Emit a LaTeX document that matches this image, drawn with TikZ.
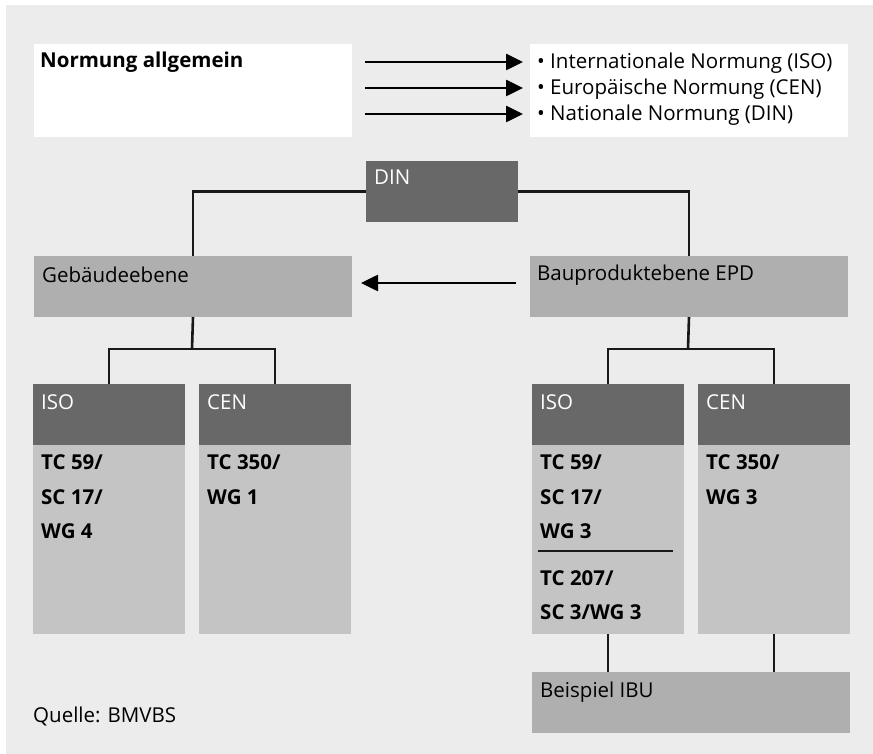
\documentclass[tikz,border=0pt]{standalone}
\usepackage{fontspec}
\setmainfont{Open Sans}
\usetikzlibrary{arrows.meta}
\definecolor{panel}{HTML}{ECECEC}
\definecolor{dgray}{HTML}{686868}
\definecolor{lgray}{HTML}{C4C4C4}
\definecolor{mgray}{HTML}{AEAFAE}
\tikzset{
  box/.style  = {inner sep=0pt, outer sep=0pt, anchor=north west},
  hdr/.style  = {box, fill=dgray, minimum width=152pt, minimum height=61pt},
  body/.style = {box, fill=lgray, minimum width=152pt, minimum height=189pt},
  lvl/.style  = {box, fill=mgray, minimum width=318pt, minimum height=61pt},
  wbox/.style = {box, fill=white, minimum width=318pt, minimum height=93pt},
  lbl/.style  = {anchor=base west, inner sep=0pt, font=\fontsize{20.5}{24}\selectfont},
  wlbl/.style = {lbl, text=white},
  blbl/.style = {lbl, font=\fontsize{20.5}{24}\selectfont\bfseries},
  conn/.style = {line width=2.6pt, color=black!90},
  arr/.style  = {line width=2.6pt, -{Triangle[length=17pt, width=16pt]}}
}
\begin{document}
\begin{tikzpicture}[x=1pt, y=-1pt]
\useasboundingbox (0,0) rectangle (873,754);
\fill[panel] (6,5) rectangle (873,754);

% top: general standards
\node[wbox] (gen) at (34,44) {};
\node[wbox] (lvls) at (530,44) {};
\node[blbl] (gen-t) at (40,68) {Normung allgemein};
\node[lbl] (iso-t) at (537,69) {\textbullet\ Internationale Normung (ISO)};
\node[lbl] (cen-t) at (537,95) {\textbullet\ Europäische Normung (CEN)};
\node[lbl] (din-t) at (537,121) {\textbullet\ Nationale Normung (DIN)};
\foreach \y [count=\i] in {62,88,114} {
  \coordinate (s\i) at (365,\y);
  \coordinate (e\i) at (523,\y);
  \draw[arr] (s\i) -- (e\i);
}

% DIN and the two levels
\node[hdr] (din) at (366,161) {};
\node[wlbl] (din-l) at (374,185) {DIN};
\node[lvl] (geb) at (34,256) {};
\node[lbl] (geb-l) at (42,282) {Gebäudeebene};
\node[lvl] (bau) at (530,256) {};
\node[lbl] (bau-l) at (537,280) {Bauproduktebene EPD};
\draw[conn] (din.west) -| (geb.north);
\draw[conn] (din.east) -| (bau.north);
\coordinate (ga) at (516,283);
\coordinate (gb) at (361,283);
\draw[arr] (ga) -- (gb);

% committees, building level
\node[hdr] (iso1h) at (33,384) {};
\node[body] (iso1b) at (33,445) {};
\node[hdr] (cen1h) at (199,384) {};
\node[body] (cen1b) at (199,445) {};
\node[wlbl] (iso1-l) at (41,409) {ISO};
\node[wlbl] (cen1-l) at (207,409) {CEN};
\node[blbl] (iso1-a) at (41,469) {TC 59/};
\node[blbl] (iso1-b) at (41,504) {SC 17/};
\node[blbl] (iso1-c) at (41,538) {WG 4};
\node[blbl] (cen1-a) at (207,469) {TC 350/};
\node[blbl] (cen1-b) at (207,504) {WG 1};
\coordinate (jl) at (192,349);
\draw[conn] (geb.south) -- (jl);
\draw[conn] (iso1h.north) |- (jl) -| (cen1h.north);

% committees, product level
\node[hdr] (iso2h) at (532,384) {};
\node[body] (iso2b) at (532,445) {};
\node[hdr] (cen2h) at (698,384) {};
\node[body] (cen2b) at (698,445) {};
\node[wlbl] (iso2-l) at (540,409) {ISO};
\node[wlbl] (cen2-l) at (706,409) {CEN};
\node[blbl] (iso2-a) at (540,469) {TC 59/};
\node[blbl] (iso2-b) at (540,504) {SC 17/};
\node[blbl] (iso2-c) at (540,538) {WG 3};
\coordinate (sep1) at (538,551);
\coordinate (sep2) at (673,551);
\draw[conn] (sep1) -- (sep2);
\node[blbl] (iso2-d) at (540,585) {TC 207/};
\node[blbl] (iso2-e) at (540,619) {SC 3/WG 3};
\node[blbl] (cen2-a) at (706,469) {TC 350/};
\node[blbl] (cen2-b) at (706,504) {WG 3};
\coordinate (jr) at (688,349);
\draw[conn] (bau.south) -- (jr);
\draw[conn] (iso2h.north) |- (jr) -| (cen2h.north);

% example
\node[lvl] (ibu) at (532,672) {};
\node[lbl] (ibu-l) at (540,697) {Beispiel IBU};
\draw[conn] (iso2b.south) -- (iso2b.south |- ibu.north);
\draw[conn] (cen2b.south) -- (cen2b.south |- ibu.north);

\node[lbl] (src) at (33,722) {Quelle: BMVBS};
\end{tikzpicture}
\end{document}
